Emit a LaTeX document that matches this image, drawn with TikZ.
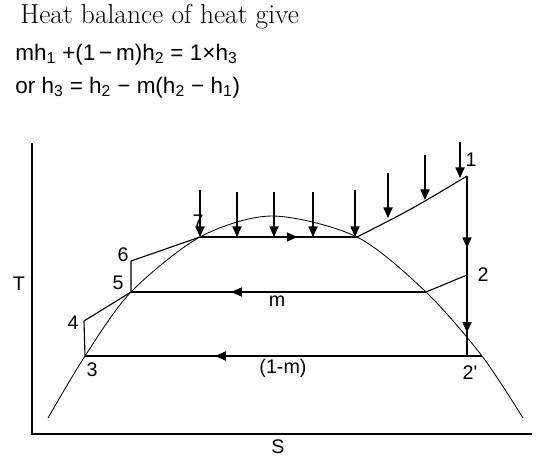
\documentclass[tikz,border=0pt]{standalone}
\usepackage{fontspec}
\newfontfamily\arialfont{Liberation Sans}
\usetikzlibrary{arrows.meta,decorations.markings}

\begin{document}
\begin{tikzpicture}[x=0.025cm,y=-0.025cm,
    lbl/.style={font=\arialfont\fontsize{14}{16}\selectfont, inner sep=0pt},
    eqn/.style={anchor=base west, inner sep=0pt, font=\arialfont\fontsize{16}{18}\selectfont},
    cyc/.style={line width=0.8pt},
    heat/.style={-{Triangle[length=7.5pt,width=6.5pt]}, line width=0.9pt},
    midarrow/.style={postaction={decorate,decoration={markings,
        mark=at position #1 with {\arrow{Triangle[length=7.5pt,width=6.5pt]}}}}}
    ]
    \useasboundingbox (0,0) rectangle (551,462);

    % heading and balance
    \node[anchor=base west, inner sep=0pt, font=\fontsize{19.5}{22}\selectfont] (title) at (20,23) {Heat balance of heat give};
    \node[eqn] (eqa) at (15,60) {mh\textsubscript{1} +(1\,−\,m)h\textsubscript{2} = 1×h\textsubscript{3}};
    \node[eqn] (eqb) at (15,93) {or h\textsubscript{3} = h\textsubscript{2} − m(h\textsubscript{2} − h\textsubscript{1})};

    % axes
    \coordinate (ytop) at (32,143);
    \coordinate (orig) at (32,434);
    \coordinate (xend) at (532,434);
    \draw[line width=1.1pt] (ytop) -- (orig) -- (xend);
    \node[lbl] (tlab) at (19,284) {T};
    \node[lbl] (slab) at (278,447) {S};

    % saturation dome
    \draw[line width=0.6pt] plot[smooth] coordinates {(48,418) (85,356) (131,292) (200,237) (272,216) (357,237) (426,292) (482,356) (523,418)};

    % state points
    \coordinate (p1) at (467,176);
    \coordinate (p2) at (467,275);
    \coordinate (p2s) at (467,356);
    \coordinate (p3) at (85,356);
    \coordinate (p4) at (84,321);
    \coordinate (p5) at (131,292);
    \coordinate (p6) at (131,261);
    \coordinate (p7) at (200,237);
    \coordinate (g7) at (357,237);
    \coordinate (g5) at (426,292);
    \coordinate (g3) at (482,356);

    % cycle
    \draw[cyc] (p3) -- (p4) -- (p5) -- (p6) -- (p7);
    \draw[cyc, midarrow=0.62] (p7) -- (g7);
    \draw[cyc] (g7) .. controls (412,209) .. (p1);
    \draw[cyc, midarrow=0.40, midarrow=0.87] (p1) -- (p2) -- (p2s);
    \draw[cyc] (p2) -- (g5);
    \draw[cyc, midarrow=0.66] (g5) -- (p5);
    \draw[cyc, midarrow=0.672] (g3) -- (p3);

    % heat supplied
    \foreach \x/\ya/\yb in {200/190/237, 237/192/237, 274/192/237, 313/192/237,
        355/190/237, 388/173/218, 425/155/200, 460/142/178}
        \draw[heat] (\x,\ya) -- (\x,\yb);

    % labels
    \node[lbl] (l1) at (471,160) {1};
    \node[lbl] (l2) at (483,275) {2};
    \node[lbl] (l2s) at (470,373) {2'};
    \node[lbl] (l3) at (92,370) {3};
    \node[lbl] (l4) at (73,323) {4};
    \node[lbl] (l5) at (118,283) {5};
    \node[lbl] (l6) at (123,255) {6};
    \node[lbl] (l7) at (198,222) {7};
    \node[lbl] (lm) at (277,301) {m};
    \node[lbl] (l1m) at (283,368) {(1-m)};
\end{tikzpicture}
\end{document}
